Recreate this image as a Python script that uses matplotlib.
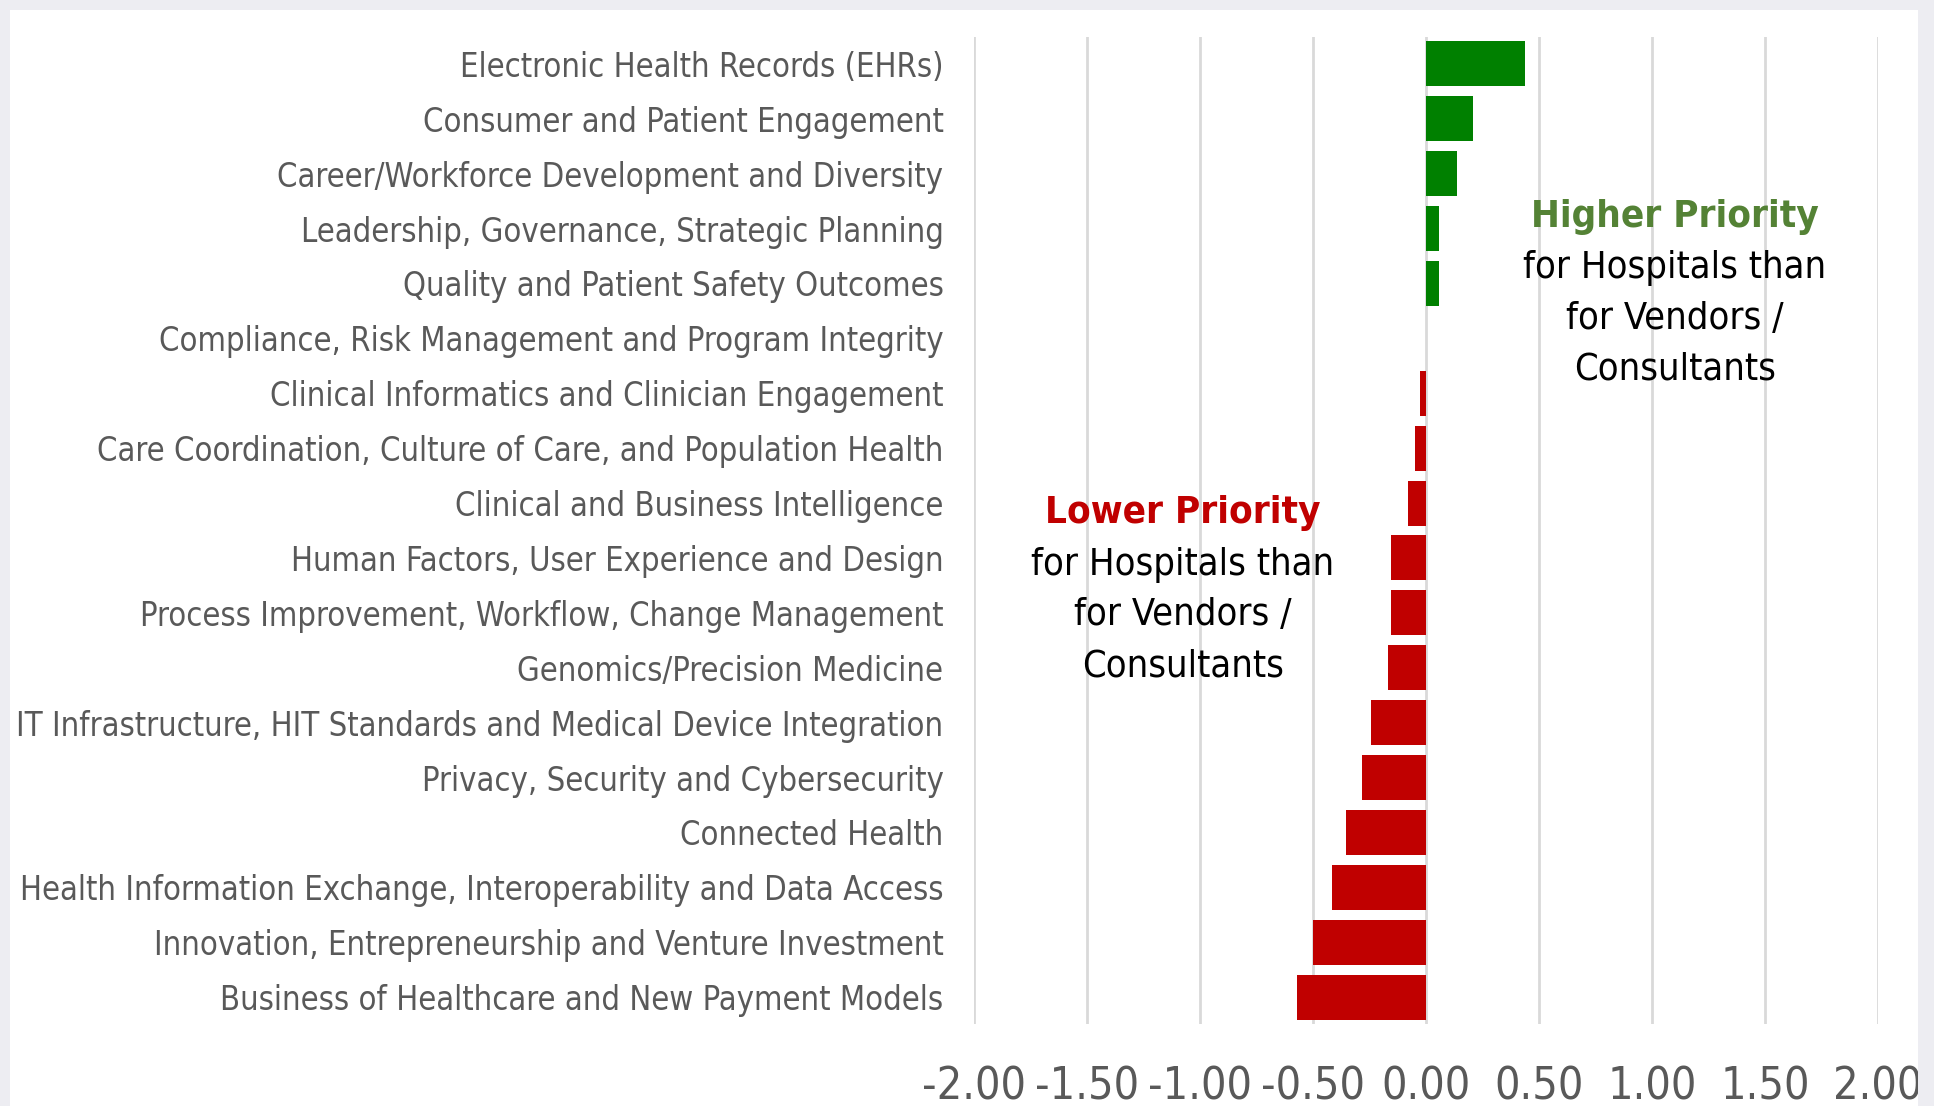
import matplotlib
matplotlib.use("Agg")
import matplotlib.pyplot as plt
from matplotlib import font_manager
from matplotlib.font_manager import FontProperties
from matplotlib.patches import Rectangle

# categories (top to bottom) and difference in priority (hospitals - vendors/consultants)
categories = [
    "Electronic Health Records (EHRs)",
    "Consumer and Patient Engagement",
    "Career/Workforce Development and Diversity",
    "Leadership, Governance, Strategic Planning",
    "Quality and Patient Safety Outcomes",
    "Compliance, Risk Management and Program Integrity",
    "Clinical Informatics and Clinician Engagement",
    "Care Coordination, Culture of Care, and Population Health",
    "Clinical and Business Intelligence",
    "Human Factors, User Experience and Design",
    "Process Improvement, Workflow, Change Management",
    "Genomics/Precision Medicine",
    "IT Infrastructure, HIT Standards and Medical Device Integration",
    "Privacy, Security and Cybersecurity",
    "Connected Health",
    "Health Information Exchange, Interoperability and Data Access",
    "Innovation, Entrepreneurship and Venture Investment",
    "Business of Healthcare and New Payment Models",
]
values = [0.44, 0.21, 0.135, 0.058, 0.058, 0.0, -0.027, -0.05, -0.08,
          -0.157, -0.157, -0.17, -0.242, -0.283, -0.354, -0.418, -0.50, -0.569]
xticks = [-2.0, -1.5, -1.0, -0.5, 0.0, 0.5, 1.0, 1.5, 2.0]
xtick_labels = ["-2.00", "-1.50", "-1.00", "-0.50", "0.00", "0.50", "1.00", "1.50", "2.00"]


# look for a condensed font file (the original uses a narrow Tahoma-like face)
def find_font(keys, bold=False):
    for key in keys:
        for f in font_manager.fontManager.ttflist:
            fn = f.fname.replace("-", "").replace("_", "").lower()
            if key in fn and (("bold" in fn) == bold) and "italic" not in fn and "oblique" not in fn:
                return FontProperties(fname=f.fname)
    return None

reg_keys = ["liberationsansnarrowregular", "dejavusanscondensed.ttf", "robotocondensedregular"]
bold_keys = ["liberationsansnarrowbold", "dejavusanscondensedbold", "robotocondensedbold"]
fp_reg = find_font(reg_keys) or FontProperties(family="DejaVu Sans")
fp_bold = find_font(bold_keys, bold=True) or FontProperties(family="DejaVu Sans", weight="bold")

GREEN = "#008000"
RED = "#C00000"
GREY_TXT = "#595959"

fig = plt.figure(figsize=(19.34, 11.06), dpi=100, facecolor="#EDEDF2")
panel = Rectangle((10 / 1934, 0), 1908 / 1934, 1 - 10 / 1106, transform=fig.transFigure,
                  facecolor="white", edgecolor="none", zorder=-10)
fig.add_artist(panel)

ax = fig.add_axes([974 / 1934, 1 - 1024 / 1106, 904 / 1934, 987 / 1106])
ax.set_facecolor("none")

ypos = list(range(len(categories)))
colors = [GREEN if v > 0 else RED for v in values]
ax.barh(ypos, values, height=0.82, color=colors, zorder=3)

ax.set_xlim(-2, 2)
ax.set_ylim(len(categories) - 0.51, -0.49)
ax.set_xticks(xticks)
ax.set_xticklabels(xtick_labels)
ax.set_yticks(ypos)
ax.set_yticklabels(categories)
ax.grid(axis="x", color="#D9D9D9", linewidth=2, zorder=0)
ax.set_axisbelow(True)
for s in ax.spines.values():
    s.set_visible(False)
ax.tick_params(axis="x", length=0, pad=30, labelcolor=GREY_TXT)
ax.tick_params(axis="y", length=0, pad=22, labelcolor=GREY_TXT)

# annotations
notes = []
t = ax.text(1.10, 2.79, "Higher Priority", color="#548235", fontproperties=fp_bold,
            ha="center", va="center", zorder=5)
for yy, s in zip([3.72, 4.64, 5.56], ["for Hospitals than", "for Vendors /", "Consultants"]):
    notes.append(ax.text(1.10, yy, s, color="black", fontproperties=fp_reg,
                         ha="center", va="center", zorder=5))
t2 = ax.text(-1.075, 8.18, "Lower Priority", color=RED, fontproperties=fp_bold,
             ha="center", va="center", zorder=5)
for yy, s in zip([9.13, 10.04, 10.97], ["for Hospitals than", "for Vendors /", "Consultants"]):
    notes.append(ax.text(-1.075, yy, s, color="black", fontproperties=fp_reg,
                         ha="center", va="center", zorder=5))

ylabels = ax.get_yticklabels()
xlabels = ax.get_xticklabels()
for lbl in ylabels + xlabels:
    lbl.set_fontproperties(fp_reg)

# fit font sizes to the widths measured on the original
renderer = fig.canvas.get_renderer()

def fit(artists, ref_artist, target_px):
    ref_artist.set_fontsize(20)
    w = ref_artist.get_window_extent(renderer).width
    size = 20 * target_px / w
    for a in artists:
        a.set_fontsize(size)

fit(ylabels, ylabels[12], 929)
fit(xlabels, xlabels[3], 104)
fit(notes, notes[0], 303)
fit([t, t2], t, 289)

# the last tick label is cut off by the panel edge in the original
for lbl in ax.get_xticklabels():
    lbl.set_clip_path(panel)

fig.savefig("out.png", dpi=100, facecolor=fig.get_facecolor())
